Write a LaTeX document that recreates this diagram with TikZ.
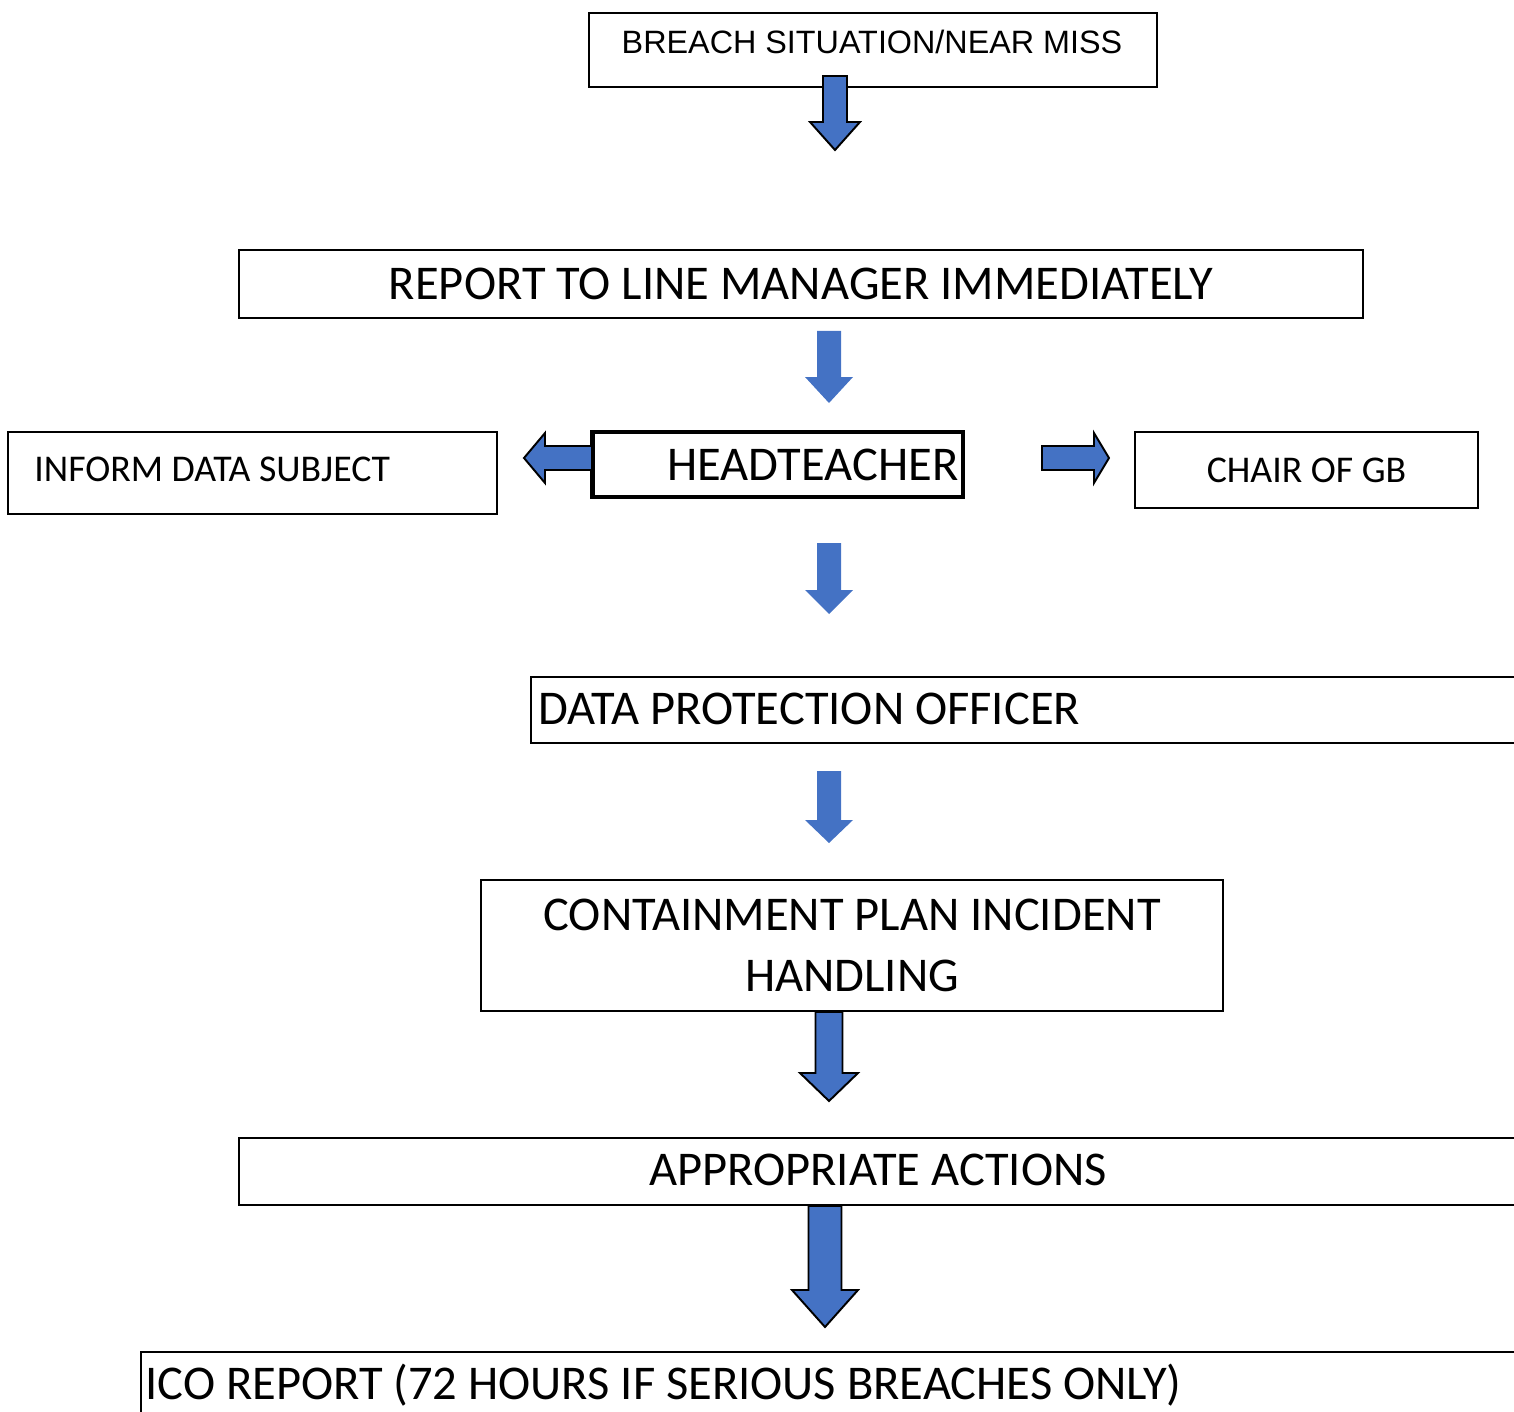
\documentclass[tikz,border=0pt]{standalone}
\usepackage{fontspec}
\setmainfont{Carlito}
\newfontfamily\arialfont{Liberation Sans}
\usetikzlibrary{positioning}
\definecolor{arrowblue}{HTML}{4472C4}

% block arrows: style, x, top, neck, tip, half shaft, half head
\newcommand{\downarr}[7]{\draw[#1] (#2-#6,#3) -- (#2+#6,#3) -- (#2+#6,#4) -- (#2+#7,#4) -- (#2,#5) -- (#2-#7,#4) -- (#2-#6,#4) -- cycle;}
% style, y, start, neck, tip, half shaft, half head
\newcommand{\sidearr}[7]{\draw[#1] (#3,#2-#6) -- (#4,#2-#6) -- (#4,#2-#7) -- (#5,#2) -- (#4,#2+#7) -- (#4,#2+#6) -- (#3,#2+#6) -- cycle;}

\begin{document}
\begin{tikzpicture}[x=0.02cm, y=-0.02cm,
    box/.style={draw, line width=1.4pt, inner sep=0pt, fill=white},
    bigtxt/.style={font=\fontsize{27.6}{35}\selectfont},
    smalltxt/.style={font=\fontsize{21.5}{25}\selectfont},
    outlined/.style={fill=arrowblue, draw=black, line width=1.1pt, line join=miter},
    plain/.style={fill=arrowblue, draw=none}]
  \useasboundingbox (0,0) rectangle (1514,1412);
  \clip (0,0) rectangle (1514,1412);

  \node[box, minimum width=11.36cm, minimum height=1.48cm, anchor=north west] (breach) at (588,12) {};
  \node[font=\arialfont\fontsize{18.4}{22}\selectfont] (breachtxt) at (872,42) {BREACH SITUATION/NEAR MISS};

  \node[box, bigtxt, minimum width=22.48cm, minimum height=1.36cm] (report) at (801,284) {REPORT TO LINE MANAGER IMMEDIATELY};

  \node[box, minimum width=9.78cm, minimum height=1.64cm] (inform) at (252.5,473) {};
  \node[smalltxt, anchor=west, inner sep=0pt] (informtxt) at (34,469) {INFORM DATA SUBJECT};
  \node[box, bigtxt, line width=2.8pt, minimum width=7.42cm, minimum height=1.3cm, text width=7.24cm, align=right] (head) at (777.5,464.5) {HEADTEACHER};
  \node[box, smalltxt, minimum width=6.86cm, minimum height=1.52cm] (chair) at (1306.5,470) {CHAIR OF GB};

  \node[box, minimum width=21.78cm, minimum height=1.32cm] (dpo) at (1075.5,710) {};
  \node[bigtxt, anchor=west, inner sep=0pt] (dpotxt) at (538,709) {DATA PROTECTION OFFICER};

  \node[box, bigtxt, minimum width=14.84cm, minimum height=2.62cm, align=center] (contain) at (852,945.5) {CONTAINMENT PLAN INCIDENT\\HANDLING};

  \node[box, minimum width=27.62cm, minimum height=1.34cm] (actions) at (929.5,1171.5) {};
  \node[bigtxt] (actionstxt) at (878,1170) {APPROPRIATE ACTIONS};

  \node[box, minimum width=29.6cm, minimum height=1.8cm, anchor=north west] (ico) at (140,1351) {};
  \node[bigtxt, anchor=west, inner sep=0pt] (icotxt) at (145,1385) {ICO REPORT (72 HOURS IF SERIOUS BREACHES ONLY)};

  \downarr{outlined}{835}{76}{122}{150}{12}{25}
  \downarr{plain}{829}{331}{377}{403}{12}{24}
  \sidearr{outlined}{458}{592}{545}{524}{12}{25}
  \sidearr{outlined}{458}{1042}{1094}{1109}{12}{25}
  \downarr{plain}{829}{543}{590}{614}{12}{24}
  \downarr{plain}{829}{771}{820}{843}{12}{24}
  \downarr{outlined}{829}{1012}{1073}{1101}{13.5}{29}
  \downarr{outlined}{825}{1206}{1290}{1327}{16.5}{33}
\end{tikzpicture}
\end{document}
